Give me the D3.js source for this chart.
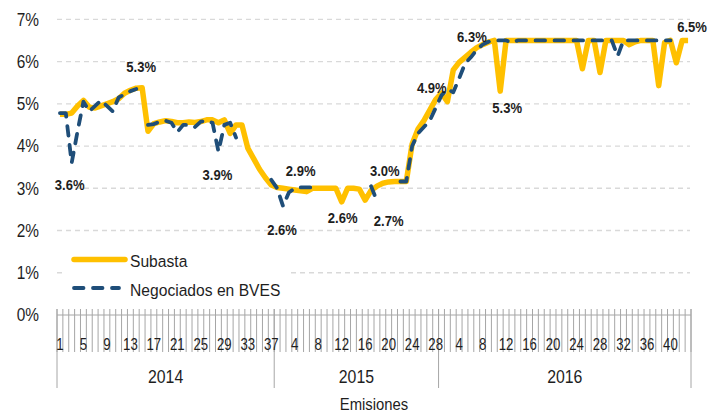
<!DOCTYPE html>
<html>
<head>
<meta charset="utf-8">
<script src="https://cdn.jsdelivr.net/npm/d3@7"></script>
<style>
  body { margin: 0; background: #fff; }
  svg { display: block; font-family: "Liberation Sans", Arial, sans-serif; }
</style>
</head>
<body>
<svg id="chart" width="722" height="413"></svg>
<script>
// años y número de emisiones por año (eje de categorías de dos niveles)
const years = ["2014", "2015", "2016"];
const emisionesPorAnio = [37, 28, 43];

// tasa de subasta (%)
const subasta = [
  // 2014
  4.75, 4.75, 4.78, 4.95, 5.08, 4.92, 4.90, 4.95, 5.00, 5.05, 5.12, 5.25, 5.32, 5.37, 5.38, 4.35,
  4.53, 4.57, 4.60, 4.58, 4.55, 4.55, 4.57, 4.56, 4.58, 4.62, 4.62, 4.55, 4.62, 4.30, 4.50, 4.50,
  3.95, 3.70, 3.45, 3.25, 3.08,
  // 2015
  3.02, 3.00, 2.98, 2.96, 2.94, 2.92, 3.00, 3.00, 3.00, 3.00, 3.00, 2.68, 3.00, 3.00, 2.98, 2.72,
  2.95, 3.05, 3.12, 3.15, 3.16, 3.16, 3.16, 4.05, 4.40, 4.60, 4.85, 5.10,
  // 2016
  5.25, 5.05, 5.80, 5.98, 6.10, 6.22, 6.33, 6.40, 6.46, 6.50, 5.30, 6.50, 6.50, 6.50, 6.50, 6.50,
  6.50, 6.50, 6.50, 6.50, 6.50, 6.50, 6.50, 6.50, 5.83, 6.50, 6.50, 5.74, 6.50, 6.50, 6.50, 6.50,
  6.40, 6.47, 6.50, 6.50, 6.50, 5.43, 6.45, 6.50, 5.97, 6.50, 6.50
];

// tasa negociada en BVES (%), null = sin operaciones
const negociados = [
  // 2014
  4.78, 4.78, 3.60, 4.35, 5.05, 4.82, 4.95, 5.08, 4.95, 4.82, 5.15, 5.22, 5.30, 5.35, null, 4.50,
  4.52, 4.58, 4.60, 4.55, 4.33, 4.50, 4.50, 4.45, 4.58, 4.60, 4.55, 3.87, 4.50, 4.55, 4.20, null,
  null, null, null, null, 3.20,
  // 2015
  3.00, 2.58, 2.90, 3.00, 3.02, 3.02, 3.02, 3.02, null, null, null, null, null, null, null, null,
  3.05, 2.70, null, null, null, 3.16, 3.16, 4.00, 4.30, 4.45, 4.60, 4.90,
  // 2016
  5.20, 5.35, 5.27, 5.60, 5.95, 6.10, 6.28, 6.40, 6.47, 6.50, 6.50, 6.50, 6.45, 6.50, 6.50, 6.50,
  6.50, 6.50, 6.50, 6.50, 6.50, 6.50, 6.50, 6.50, 6.50, 6.50, 6.50, 6.50, 6.50, 6.50, 6.13, 6.50,
  6.50, 6.50, 6.50, 6.50, 6.50, 6.50, 6.50, 6.50, null, null, null
];

const yTicks = [0, 1, 2, 3, 4, 5, 6, 7];

// etiquetas de datos: índice de la emisión y texto
const labelIndex = [2, 14, 27, 38, 41, 48, 55, 56, 63, 70, 75, 107];
const labelText = ["3.6%", "5.3%", "3.9%", "2.6%", "2.9%", "2.6%", "3.0%", "2.7%", "4.9%", "6.3%", "5.3%", "6.5%"];

// desplazamiento de cada etiqueta respecto a su valor
const labelOffset = [[-2, 27], [-1, -19], [-1, 30], [-1, 30], [0, -16], [1, 18], [2, -12], [0, 25], [2, -15], [1, -7], [7, 22], [4, -8]];

const legendItems = ["Subasta", "Negociados en BVES"];

const W = 722, H = 413;
const plotLeft = 57, plotRight = 691, plotTop = 19.3, plotBottom = 315;
const yellow = "#FFC000", blue = "#1F4E79", ink = "#1e1e1e";

const categories = [];
years.forEach((yr, k) => {
  for (let n = 1; n <= emisionesPorAnio[k]; n++) categories.push({ year: yr, n: n });
});

const svg = d3.select("#chart");
svg.append("rect").attr("width", W).attr("height", H).attr("fill", "#fff");

const x = d3.scaleBand().domain(d3.range(categories.length)).range([plotLeft, plotRight]);
const cx = i => x(i) + x.bandwidth() / 2;
const y = d3.scaleLinear().domain([0, 7]).range([plotBottom, plotTop]);

// the source text is a little condensed: draw it taller and squeeze it
const squeeze = (px, py, s) => `translate(${px},${py}) scale(${s},1)`;

// gridlines
svg.append("g").selectAll("line")
  .data(yTicks.filter(t => t > 0))
  .enter().append("line")
  .attr("x1", plotLeft).attr("x2", plotRight - 1)
  .attr("y1", d => y(d)).attr("y2", d => y(d))
  .attr("stroke", "#d9d9d9")
  .attr("stroke-width", 1.3)
  .attr("stroke-dasharray", "5,4");

// y axis labels
const yAxis = d3.axisLeft(y).tickValues(yTicks).tickSize(0).tickPadding(0).tickFormat(d => d + "%");
const gy = svg.append("g").attr("transform", "translate(39,0)").call(yAxis);
gy.select(".domain").remove();
gy.selectAll("text")
  .attr("font-family", "'Liberation Sans', Arial, sans-serif")
  .attr("font-size", 17.5)
  .attr("dy", "0.34em")
  .attr("transform", "scale(0.88,1)")
  .attr("fill", ink);

// x axis: tick comb between categories
const gx = svg.append("g");
gx.append("line")
  .attr("x1", plotLeft).attr("x2", plotRight)
  .attr("y1", plotBottom).attr("y2", plotBottom)
  .attr("stroke", "#a6a6a6");

const boundaries = d3.range(categories.length + 1).map(i => i < categories.length ? x(i) : plotRight);
gx.selectAll("line.tick")
  .data(boundaries)
  .enter().append("line")
  .attr("class", "tick")
  .attr("x1", d => d).attr("x2", d => d)
  .attr("y1", 309).attr("y2", 352)
  .attr("stroke", "#a6a6a6")
  .attr("stroke-width", 1);

// year separators
const yearStart = [];
let acc = 0;
emisionesPorAnio.forEach(c => { yearStart.push(acc); acc += c; });
const yearEdges = yearStart.map(s => x(s)).concat([plotRight]);
gx.selectAll("line.year")
  .data(yearEdges)
  .enter().append("line")
  .attr("class", "year")
  .attr("x1", d => d).attr("x2", d => d)
  .attr("y1", 309).attr("y2", 388)
  .attr("stroke", "#a6a6a6")
  .attr("stroke-width", 1);

// tick labels every 4th emission
gx.selectAll("text.cat")
  .data(categories.map((c, i) => ({ c, i })).filter(d => d.i % 4 === 0))
  .enter().append("text")
  .attr("class", "cat")
  .attr("transform", d => squeeze(cx(d.i), 350, 0.8))
  .attr("text-anchor", "middle")
  .attr("font-size", 16.5)
  .attr("fill", ink)
  .text(d => d.c.n);

// year labels
gx.selectAll("text.yr")
  .data(years)
  .enter().append("text")
  .attr("class", "yr")
  .attr("transform", (d, k) => squeeze((yearEdges[k] + yearEdges[k + 1]) / 2, 383, 0.88))
  .attr("text-anchor", "middle")
  .attr("font-size", 18)
  .attr("fill", ink)
  .text(d => d);

svg.append("text")
  .attr("transform", squeeze((plotLeft + plotRight) / 2, 410, 0.9))
  .attr("text-anchor", "middle")
  .attr("font-size", 16.5)
  .attr("fill", ink)
  .text("Emisiones");

// legend background (covers gridlines)
svg.append("rect")
  .attr("x", 62).attr("y", 243).attr("width", 228).attr("height", 60)
  .attr("fill", "#fff");

// series
const line = d3.line()
  .defined(d => d != null)
  .x((d, i) => cx(i))
  .y(d => y(d))
  .curve(d3.curveLinear);

svg.append("path")
  .datum(subasta)
  .attr("fill", "none")
  .attr("stroke", yellow)
  .attr("stroke-width", 5.5)
  .attr("stroke-linejoin", "round")
  .attr("d", line);

svg.append("path")
  .datum(negociados)
  .attr("fill", "none")
  .attr("stroke", blue)
  .attr("stroke-width", 3.8)
  .attr("stroke-linecap", "round")
  .attr("stroke-linejoin", "round")
  .attr("stroke-dasharray", "9.5,9.5")
  .attr("d", line);

// data labels
svg.append("g").selectAll("text")
  .data(labelIndex)
  .enter().append("text")
  .attr("transform", (d, k) => squeeze(cx(d) + labelOffset[k][0], y(parseFloat(labelText[k])) + labelOffset[k][1], 0.9))
  .attr("text-anchor", "middle")
  .attr("font-size", 14.5)
  .attr("font-weight", "bold")
  .attr("fill", ink)
  .text((d, k) => labelText[k]);

// legend
const lg = svg.append("g");
lg.append("line")
  .attr("x1", 74).attr("x2", 125).attr("y1", 259.5).attr("y2", 259.5)
  .attr("stroke", yellow).attr("stroke-width", 5.5).attr("stroke-linecap", "round");
lg.append("line")
  .attr("x1", 74).attr("x2", 119).attr("y1", 288).attr("y2", 288)
  .attr("stroke", blue).attr("stroke-width", 3.8).attr("stroke-linecap", "round")
  .attr("stroke-dasharray", "9.5,9.5");
lg.selectAll("text")
  .data(legendItems)
  .enter().append("text")
  .attr("transform", (d, k) => squeeze(130, 267 + k * 28.5, 0.92))
  .attr("font-size", 17)
  .attr("fill", ink)
  .text(d => d);
</script>
</body>
</html>
